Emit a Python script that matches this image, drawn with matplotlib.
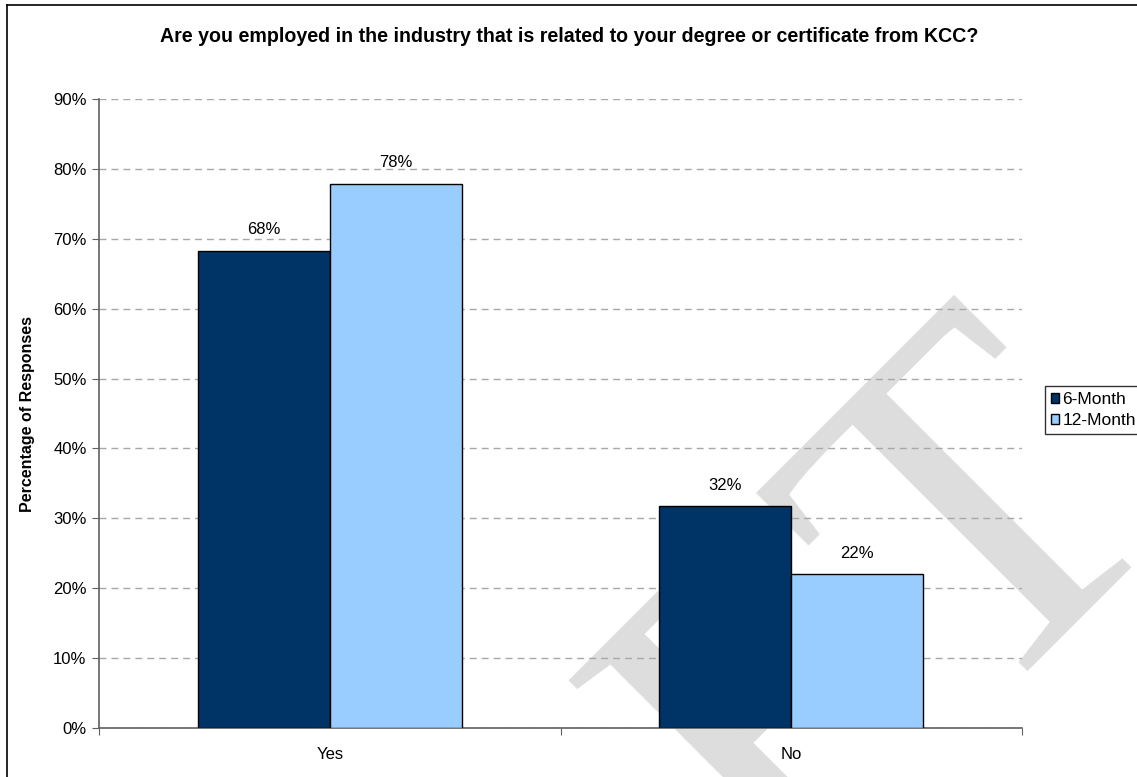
import matplotlib.pyplot as plt
import numpy as np
from matplotlib.lines import Line2D
from matplotlib.patches import Patch

# data
categories = ["Yes", "No"]
series_names = ["6-Month", "12-Month"]
six_month = [68.3, 31.7]
twelve_month = [77.9, 22.0]
colors = ["#003366", "#99CCFF"]
yticks = list(range(0, 100, 10))

plt.rcParams["font.family"] = ["Liberation Sans", "DejaVu Sans"]

W, H, DPI = 1137, 777, 100
fig = plt.figure(figsize=(W / DPI, H / DPI), dpi=DPI)

# axes placed in pixel terms
x0, x1 = 99, 1022
y_top, y_bot = 99, 728
ax = fig.add_axes([x0 / W, 1 - y_bot / H, (x1 - x0) / W, (y_bot - y_top) / H])
ax.set_facecolor("none")

# draft watermark behind everything
fig.text(1182 / W, 1 - 503 / H, "DRAFT", rotation=45, rotation_mode="anchor",
         ha="right", va="baseline", fontsize=350, color="#DDDDDD",
         family="Liberation Serif", zorder=-10)

# figure frame (only top and left edges are visible in the crop)
fig.add_artist(Line2D([7 / W, 1], [1 - 5 / H, 1 - 5 / H], color="black", lw=1.2))
fig.add_artist(Line2D([7 / W, 7 / W], [1 - 5 / H, 0], color="black", lw=1.2))

x = np.arange(len(categories))
w = 1 / 3.5
for i, (vals, name) in enumerate(zip([six_month, twelve_month], series_names)):
    pos = x + (i - 0.5) * w
    bars = ax.bar(pos, vals, width=w, color=colors[i], edgecolor="black",
                  linewidth=1.0, zorder=3, label=name)
    for b, v in zip(bars, vals):
        ax.text(b.get_x() + b.get_width() / 2, v + 1.9, f"{round(v)}%",
                ha="center", va="bottom", fontsize=12, zorder=4)

ax.set_xlim(-0.5, 1.5)
ax.set_ylim(0, 90)
ax.set_yticks(yticks)
ax.set_yticklabels([f"{t}%" for t in yticks], fontsize=12)
ax.yaxis.grid(True, linestyle=(0, (5, 3.6)), color="#A8A8A8", linewidth=1, zorder=0)
ax.set_axisbelow(True)

ax.set_xticks([-0.5, 0.5, 1.5])
ax.set_xticklabels([])
ax.set_xticks(x, minor=True)
ax.set_xticklabels(categories, minor=True, fontsize=12)
ax.tick_params(axis="x", which="minor", length=0, pad=14)
ax.tick_params(axis="x", which="major", length=5, color="#606060")
ax.tick_params(axis="y", length=5, color="#606060", pad=4)

for s in ["top", "right"]:
    ax.spines[s].set_visible(False)
for s in ["left", "bottom"]:
    ax.spines[s].set_color("#606060")
    ax.spines[s].set_linewidth(1.2)

ax.set_ylabel("Percentage of Responses", fontsize=11.5, fontweight="bold")
ax.yaxis.set_label_coords((35 - x0) / (x1 - x0), 0.5)

fig.text(0.5 * (163 + 975) / W, 1 - 37 / H,
         "Are you employed in the industry that is related to your degree or certificate from KCC?",
         ha="center", va="center", fontsize=14.1, fontweight="bold")

handles = [Patch(facecolor=c, edgecolor="black", label=n) for c, n in zip(colors, series_names)]
leg = fig.legend(handles=handles, loc="upper left", bbox_to_anchor=(1045 / W, 1 - 386 / H),
                 fontsize=12.5, frameon=True, fancybox=False, edgecolor="black",
                 handlelength=0.45, handleheight=0.45, handletextpad=0.2,
                 borderpad=0.35, labelspacing=0.35, borderaxespad=0)
leg.get_frame().set_linewidth(1.0)

fig.savefig("out.png", dpi=DPI)
